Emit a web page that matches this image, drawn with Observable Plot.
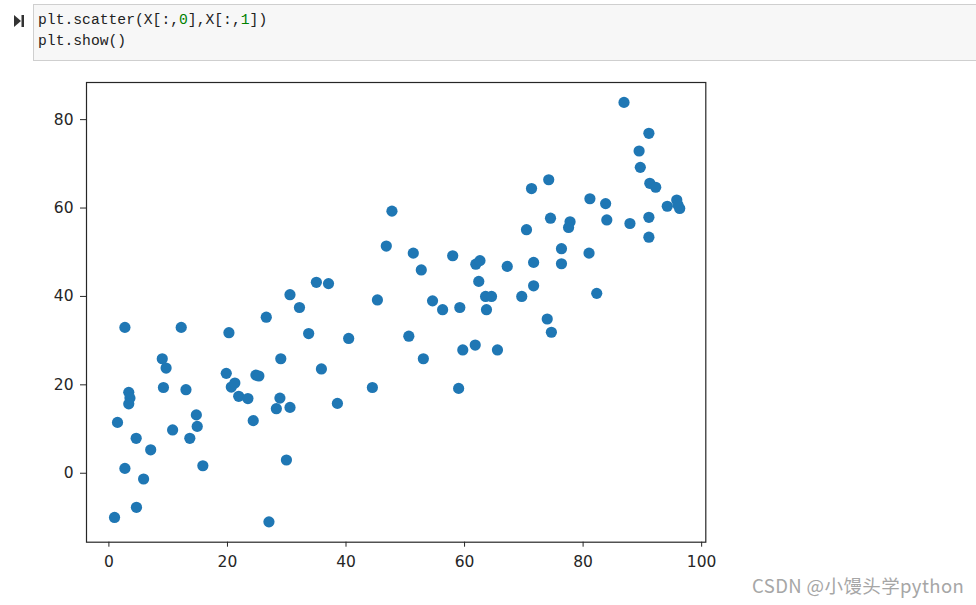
<!DOCTYPE html>
<html>
<head>
<meta charset="utf-8">
<script src="https://cdn.jsdelivr.net/npm/d3@7"></script>
<script src="https://cdn.jsdelivr.net/npm/@observablehq/plot@0.6"></script>
<style>
  html, body { margin: 0; padding: 0; background: #fff; width: 976px; height: 605px; overflow: hidden; }
  #page { position: relative; width: 976px; height: 605px; }
  #cell { position: absolute; left: 33px; top: 4px; width: 960px; height: 57px;
          background: #f7f7f7; border: 1px solid #cfcfcf; box-sizing: border-box; }
  #code { position: absolute; left: 38px; top: 10px; margin: 0;
          font-family: "Liberation Mono", "DejaVu Sans Mono", monospace; font-size: 14.7px;
          line-height: 21px; color: #222; white-space: pre; }
  #code .n { color: #008000; }
  #icon { position: absolute; left: 13px; top: 14px; }
  #chart { position: absolute; left: 0; top: 70px; }
  #wm { position: absolute; left: 752px; top: 572px; font-family: "Noto Sans CJK SC", "Noto Sans", sans-serif;
        font-size: 18.5px; letter-spacing: 0.4px; color: #a6a6a6; white-space: nowrap; }
</style>
</head>
<body>
<div id="page">
  <svg id="icon" width="14" height="14" viewBox="0 0 14 14">
    <path d="M1 1 L8 7 L1 13 Z" fill="#333"/>
    <rect x="8.5" y="1" width="2.5" height="12" fill="#333"/>
  </svg>
  <div id="cell"></div>
  <pre id="code">plt.scatter(X[:,<span class="n">0</span>],X[:,<span class="n">1</span>])
plt.show()</pre>
  <div id="chart"></div>
  <div id="wm">CSDN @小馒头学python</div>
</div>
<script>
const xs = [0.95,1.45,2.7,2.7,3.35,3.55,3.35,4.6,4.65,5.85,7.05,9.0,9.65,9.2,10.75,12.2,13.0,13.65,14.75,14.9,
  15.85,19.8,20.25,20.65,21.25,21.9,23.45,24.35,24.8,25.3,26.55,27.0,28.25,28.85,29.0,29.95,30.55,30.55,32.15,33.7,
  35.0,35.85,37.05,38.55,40.45,44.45,45.3,46.8,47.75,50.6,51.35,52.7,53.05,54.6,56.3,58.0,59.0,59.2,59.7,61.8,
  61.9,62.6,62.4,63.55,63.7,64.55,65.55,67.2,69.65,70.45,71.3,71.65,71.65,73.95,74.2,74.5,74.65,76.35,76.35,77.8,
  77.55,81.0,81.15,82.3,83.8,84.0,86.9,87.9,89.45,89.65,91.1,91.1,91.1,91.25,92.25,94.2,95.8,96.3,96.0];
const ys = [-10.0,11.5,33.0,1.1,18.3,17.0,15.7,7.9,-7.7,-1.3,5.3,25.9,23.8,19.4,9.8,33.0,18.9,7.9,13.2,10.6,
  1.7,22.6,31.8,19.5,20.4,17.4,16.9,11.9,22.2,22.0,35.3,-11.0,14.6,17.0,25.9,3.0,40.4,14.9,37.5,31.6,
  43.2,23.6,42.9,15.8,30.5,19.4,39.2,51.4,59.3,31.0,49.8,46.0,25.9,39.0,37.0,49.2,19.2,37.5,27.9,29.0,
  47.3,48.1,43.4,40.0,37.0,40.0,27.9,46.8,40.0,55.1,64.4,42.4,47.7,34.9,66.4,57.7,31.9,50.8,47.4,56.9,
  55.6,49.8,62.1,40.7,61.0,57.3,83.9,56.5,72.9,69.2,76.9,57.9,53.4,65.6,64.7,60.4,61.8,59.9,60.7];
const xTicks = [0, 20, 40, 60, 80, 100];
const yTicks = [0, 20, 40, 60, 80];

const data = xs.map((x, i) => ({x, y: ys[i]}));

const chart = Plot.plot({
  width: 740,
  height: 520,
  marginLeft: 86,
  marginRight: 34.7,
  marginTop: 12,
  marginBottom: 48.3,
  style: { fontFamily: "'DejaVu Sans', sans-serif", fontSize: "15.5px", color: "#262626", background: "transparent" },
  x: { domain: [-3.78, 100.7], ticks: xTicks, label: null, tickSize: 5, tickPadding: 9 },
  y: { domain: [-15.6, 88.4], ticks: yTicks, label: null, tickSize: 6, tickPadding: 7 },
  marks: [
    Plot.dot(data, { x: "x", y: "y", r: 5.6, fill: "#1f77b4", stroke: "none" }),
    Plot.frame({ stroke: "#262626", strokeWidth: 1.2 })
  ]
});
document.getElementById("chart").appendChild(chart);
</script>
</body>
</html>
